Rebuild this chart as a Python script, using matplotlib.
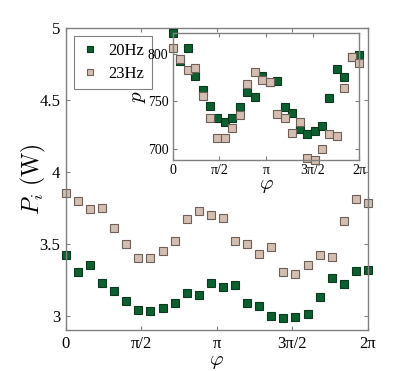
import numpy as np
import matplotlib
matplotlib.use("Agg")
import matplotlib.pyplot as plt

plt.rcParams['font.family'] = ['Liberation Serif', 'DejaVu Serif']
plt.rcParams['mathtext.fontset'] = 'cm'

# phase values: 26 points from 0 to 2pi
phi = np.linspace(0, 2 * np.pi, 26)

# main panel: P_i (W)
p20 = [3.42, 3.30, 3.35, 3.23, 3.17, 3.10, 3.04, 3.03, 3.05, 3.09, 3.16, 3.14,
       3.23, 3.20, 3.21, 3.09, 3.07, 3.00, 2.98, 2.99, 3.01, 3.13, 3.26, 3.22,
       3.31, 3.32]
p23 = [3.85, 3.80, 3.74, 3.75, 3.61, 3.50, 3.40, 3.40, 3.45, 3.52, 3.67, 3.73,
       3.70, 3.68, 3.52, 3.50, 3.43, 3.48, 3.30, 3.29, 3.35, 3.42, 3.41, 3.66,
       3.81, 3.78]

# inset: p
q20 = [822, 793, 806, 777, 762, 745, 732, 728, 732, 744, 760, 755,
       777, 771, 772, 744, 738, 721, 716, 719, 724, 754, 784, 776,
       797, 799]
q23 = [806, 795, 783, 785, 756, 732, 711, 711, 722, 736, 768, 781,
       773, 770, 737, 732, 717, 728, 690, 688, 700, 716, 713, 764,
       797, 791]

labels = ['20Hz', '23Hz']
tick_pos = [0, np.pi / 2, np.pi, 3 * np.pi / 2, 2 * np.pi]
tick_lab = ['0', 'π/2', 'π', '3π/2', '2π']

green = '#0d5f2f'
green_edge = '#0a3a1e'
beige = '#d3beb1'
beige_edge = '#6e5f58'
spine_col = '#808080'


def style_axes(ax, fs):
    for s in ax.spines.values():
        s.set_color(spine_col)
        s.set_linewidth(1.0)
    ax.tick_params(direction='in', length=3, width=0.8, color=spine_col,
                   top=True, right=True, labelsize=fs, pad=4)
    ax.set_xticks(tick_pos)
    ax.set_xticklabels(tick_lab)
    ax.set_xlim(0, 2 * np.pi)


fig = plt.figure(figsize=(4.07, 3.71), dpi=100)

ax = fig.add_axes([0.162, 0.1105, 0.742, 0.814])
ax.plot(phi, p20, 's', color=green, mec=green_edge, mew=0.8, ms=6.2,
        label=labels[0], clip_on=False)
ax.plot(phi, p23, 's', color=beige, mec=beige_edge, mew=0.8, ms=6.2,
        label=labels[1], clip_on=False)
ax.set_ylim(2.9, 5)
ax.set_yticks([3, 3.5, 4, 4.5, 5])
ax.set_yticklabels(['3', '3.5', '4', '4.5', '5'])
style_axes(ax, 12)
ax.set_ylabel(r'$P_i\ \mathrm{(W)}$', fontsize=17, labelpad=-6)
ax.set_xlabel(r'$\varphi$', fontsize=15, labelpad=0)
leg = ax.legend(loc='upper left', bbox_to_anchor=(0.022, 0.98), fontsize=12,
                markerscale=0.75, handlelength=1.0, handletextpad=0.6,
                borderpad=0.45, labelspacing=0.4, fancybox=False,
                framealpha=1, borderaxespad=0.1)
leg.get_frame().set_edgecolor(spine_col)
leg.get_frame().set_linewidth(0.8)

ins = fig.add_axes([0.4243, 0.5687, 0.4585, 0.3415])
ins.plot(phi, q20, 's', color=green, mec=green_edge, mew=0.8, ms=6,
         clip_on=False)
ins.plot(phi, q23, 's', color=beige, mec=beige_edge, mew=0.8, ms=6,
         clip_on=False)
ins.set_ylim(688, 822)
ins.set_yticks([700, 750, 800])
style_axes(ins, 10)
ins.tick_params(pad=3)
ins.set_ylabel(r'$p$', fontsize=15, labelpad=0)
ins.set_xlabel(r'$\varphi$', fontsize=15, labelpad=-1)

fig.savefig('out.png', dpi=100)
